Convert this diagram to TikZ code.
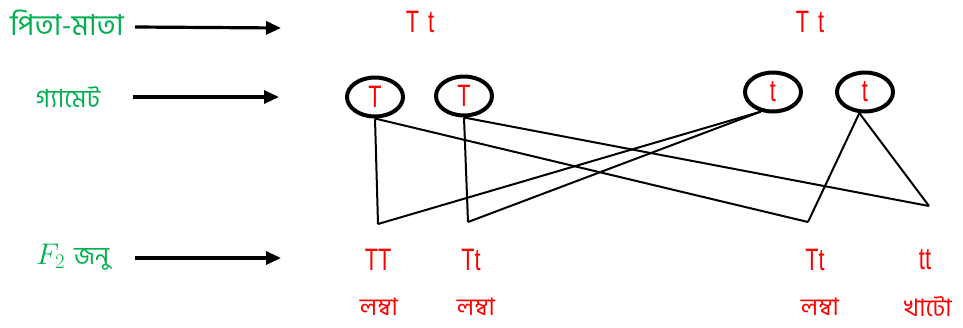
\documentclass[tikz,border=0pt]{standalone}
\usepackage{graphicx}
\usepackage{fontspec}
\usetikzlibrary{shapes.geometric,arrows.meta}
\newfontfamily\bn[Script=Bengali]{Hind Siliguri}
\newfontfamily\nar[FakeStretch=0.7]{Liberation Sans}
\definecolor{lblgreen}{RGB}{0,176,80}
\definecolor{lblred}{RGB}{255,0,0}
\tikzset{
  stagelbl/.style={text=lblgreen,font=\bn\fontsize{25}{28}\selectfont,inner sep=0pt},
  allele/.style={text=lblred,font=\nar\fontsize{31}{34}\selectfont,inner sep=0pt},
  pheno/.style={text=lblred,font=\bn\fontsize{24}{26}\selectfont,inner sep=0pt},
  gamete/.style={ellipse,draw=black,line width=4pt,minimum width=56pt,minimum height=39pt,inner sep=0pt,text=lblred,font=\nar\fontsize{31}{34}\selectfont},
  stagearrow/.style={line width=3.2pt,-{Triangle[length=15pt,width=13pt]}},
  cross/.style={line width=2pt}
}
\begin{document}
\begin{tikzpicture}[x=1pt,y=-1pt]
\useasboundingbox (0,0) rectangle (963,327);
% stage labels
\node[stagelbl,font=\bn\fontsize{29}{32}\selectfont] (lp) at (67,23) {পিতা-মাতা};
\node[stagelbl] (lg) at (68,97) {গ্যামেট};
\node[stagelbl,anchor=base west] (lf) at (36,264) {\scalebox{1.2}{$F_2$}\hspace{9pt}জনু};
% arrows
\coordinate (a1s) at (135,27); \coordinate (a1e) at (281,28);
\coordinate (a2s) at (133,97); \coordinate (a2e) at (279,97);
\coordinate (a3s) at (135,258); \coordinate (a3e) at (281,258);
\draw[stagearrow] (a1s) -- (a1e);
\draw[stagearrow] (a2s) -- (a2e);
\draw[stagearrow] (a3s) -- (a3e);
% parents
\node[allele] (p1) at (420,22) {T\hspace{9pt}t};
\node[allele] (p2) at (810,22) {T\hspace{9pt}t};
% gametes
\node[gamete] (g1) at (375,97) {T};
\node[gamete] (g2) at (464,96) {T};
\node[gamete] (g3) at (773,92) {t};
\node[gamete] (g4) at (865,92) {t};
% vertices
\coordinate (v1) at (378,224);
\coordinate (v2) at (468,222);
\coordinate (v3) at (808,222);
\coordinate (v4) at (929,206);
\draw[cross] (g1.south) -- (v1);
\draw[cross] (g1.south) -- (v3);
\draw[cross] (g2.south) -- (v2);
\draw[cross] (g2.south) -- (v4);
\draw[cross] (g3.238) -- (v1);
\draw[cross] (g3.238) -- (v2);
\draw[cross] (g4.255) -- (v3);
\draw[cross] (g4.255) -- (v4);
% F2 genotypes
\node[allele] (f1) at (378,260) {TT};
\node[allele] (f2) at (471,260) {Tt};
\node[allele] (f3) at (815,260) {Tt};
\node[allele] (f4) at (925,260) {tt};
% phenotypes
\node[pheno] (h1) at (379,307) {লম্বা};
\node[pheno] (h2) at (476,307) {লম্বা};
\node[pheno] (h3) at (820,307) {লম্বা};
\node[pheno] (h4) at (928,307) {খাটো};
\end{tikzpicture}
\end{document}
